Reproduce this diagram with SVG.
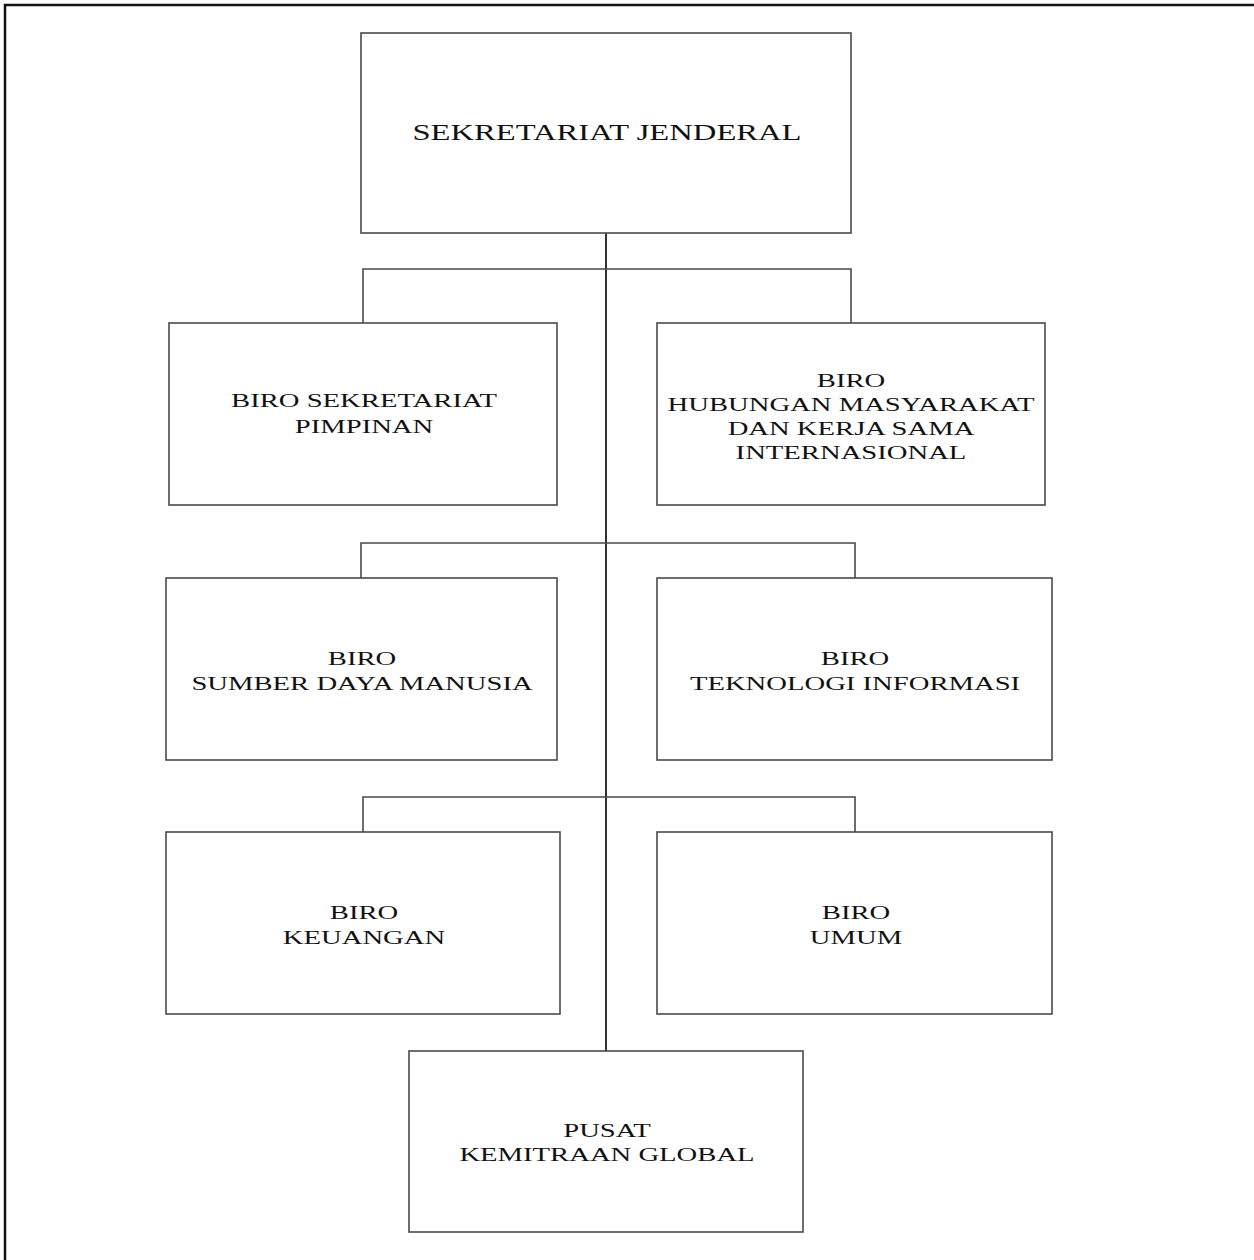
<svg xmlns="http://www.w3.org/2000/svg" width="1254" height="1260" viewBox="0 0 1254 1260">
  <style>
    .frame { fill: none; stroke: #111; stroke-width: 2.5; }
    .box { fill: #fff; stroke: #4a4a4a; stroke-width: 1.6; }
    .wire { fill: none; stroke: #4a4a4a; stroke-width: 1.6; }
    .trunk { fill: none; stroke: #333; stroke-width: 2; }
    .lbl { font-family: "Liberation Serif", "Times New Roman", serif; font-size: 19.5px; fill: #111; text-anchor: middle; }
    .title { font-size: 22.5px; }
  </style>
  <rect width="1254" height="1260" fill="#fff"/>
  <!-- page frame: top and left edges -->
  <path class="frame" d="M5,1260 V5 H1254"/>

  <!-- connectors -->
  <g id="connectors">
    <path class="trunk" d="M606,233 V1051"/>
    <path class="wire" d="M363,323 V269 H851 V323"/>
    <path class="wire" d="M361,578 V543 H855 V578"/>
    <path class="wire" d="M363,832 V797 H855 V832"/>
  </g>

  <g id="sekretariat-jenderal">
    <rect class="box" x="361" y="33" width="490" height="200"/>
    <text class="lbl title" transform="translate(607,0) scale(1.45,1)" x="0" y="140">SEKRETARIAT JENDERAL</text>
  </g>

  <g id="biro-sekretariat-pimpinan">
    <rect class="box" x="169" y="323" width="388" height="182"/>
    <g transform="translate(364,0) scale(1.47,1)">
      <text class="lbl" x="0" y="407">BIRO SEKRETARIAT</text>
      <text class="lbl" x="0" y="433">PIMPINAN</text>
    </g>
  </g>

  <g id="biro-humas-ksi">
    <rect class="box" x="657" y="323" width="388" height="182"/>
    <g transform="translate(851,0) scale(1.47,1)">
      <text class="lbl" x="0" y="387">BIRO</text>
      <text class="lbl" x="0" y="411">HUBUNGAN MASYARAKAT</text>
      <text class="lbl" x="0" y="435">DAN KERJA SAMA</text>
      <text class="lbl" x="0" y="459">INTERNASIONAL</text>
    </g>
  </g>

  <g id="biro-sdm">
    <rect class="box" x="166" y="578" width="391" height="182"/>
    <g transform="translate(362,0) scale(1.47,1)">
      <text class="lbl" x="0" y="665">BIRO</text>
      <text class="lbl" x="0" y="690">SUMBER DAYA MANUSIA</text>
    </g>
  </g>

  <g id="biro-ti">
    <rect class="box" x="657" y="578" width="395" height="182"/>
    <g transform="translate(855,0) scale(1.47,1)">
      <text class="lbl" x="0" y="665">BIRO</text>
      <text class="lbl" x="0" y="690">TEKNOLOGI INFORMASI</text>
    </g>
  </g>

  <g id="biro-keuangan">
    <rect class="box" x="166" y="832" width="394" height="182"/>
    <g transform="translate(364,0) scale(1.47,1)">
      <text class="lbl" x="0" y="919">BIRO</text>
      <text class="lbl" x="0" y="944">KEUANGAN</text>
    </g>
  </g>

  <g id="biro-umum">
    <rect class="box" x="657" y="832" width="395" height="182"/>
    <g transform="translate(856,0) scale(1.47,1)">
      <text class="lbl" x="0" y="919">BIRO</text>
      <text class="lbl" x="0" y="944">UMUM</text>
    </g>
  </g>

  <g id="pusat-kemitraan-global">
    <rect class="box" x="409" y="1051" width="394" height="181"/>
    <g transform="translate(607,0) scale(1.47,1)">
      <text class="lbl" x="0" y="1137">PUSAT</text>
      <text class="lbl" x="0" y="1161">KEMITRAAN GLOBAL</text>
    </g>
  </g>
</svg>
